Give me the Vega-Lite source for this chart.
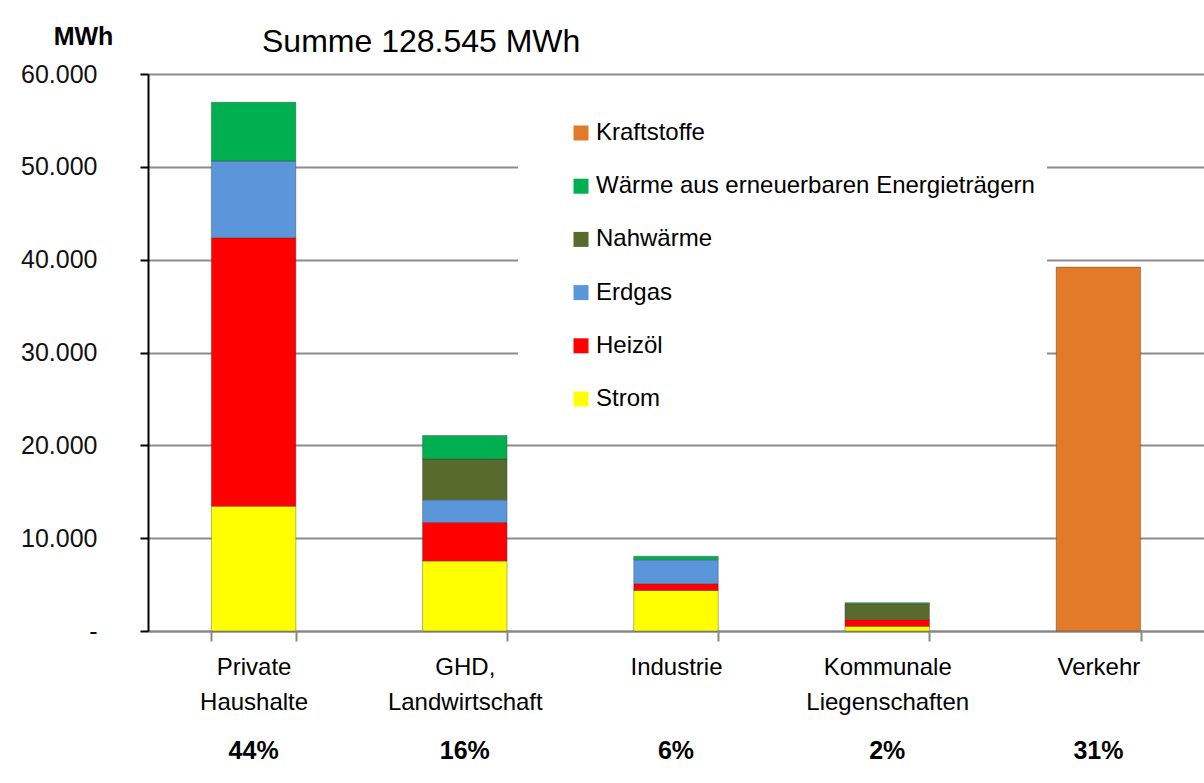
{
  "$schema": "https://vega.github.io/schema/vega-lite/v6.json",
  "width": 1056,
  "height": 557,
  "autosize": {"type": "none"},
  "padding": {"left": 148, "top": 74, "right": 0, "bottom": 152},
  "background": "white",
  "config": {"font": "Liberation Sans", "view": {"stroke": null}},
  "title": {"text": "Summe 128.545 MWh", "anchor": "start", "frame": "group", "dx": 114, "dy": 53, "fontSize": 32, "fontWeight": "normal", "color": "#000000", "offset": 18},
  "layer": [
    {
      "data": {"values": [
        {"sector": "Private Haushalte", "carrier": "Strom", "idx": 1, "mwh": 13440},
        {"sector": "Private Haushalte", "carrier": "Heizöl", "idx": 2, "mwh": 28920},
        {"sector": "Private Haushalte", "carrier": "Erdgas", "idx": 3, "mwh": 8270},
        {"sector": "Private Haushalte", "carrier": "Wärme aus erneuerbaren Energieträgern", "idx": 5, "mwh": 6320},
        {"sector": "GHD, Landwirtschaft", "carrier": "Strom", "idx": 1, "mwh": 7540},
        {"sector": "GHD, Landwirtschaft", "carrier": "Heizöl", "idx": 2, "mwh": 4150},
        {"sector": "GHD, Landwirtschaft", "carrier": "Erdgas", "idx": 3, "mwh": 2440},
        {"sector": "GHD, Landwirtschaft", "carrier": "Nahwärme", "idx": 4, "mwh": 4400},
        {"sector": "GHD, Landwirtschaft", "carrier": "Wärme aus erneuerbaren Energieträgern", "idx": 5, "mwh": 2530},
        {"sector": "Industrie", "carrier": "Strom", "idx": 1, "mwh": 4370},
        {"sector": "Industrie", "carrier": "Heizöl", "idx": 2, "mwh": 720},
        {"sector": "Industrie", "carrier": "Erdgas", "idx": 3, "mwh": 2580},
        {"sector": "Industrie", "carrier": "Wärme aus erneuerbaren Energieträgern", "idx": 5, "mwh": 390},
        {"sector": "Kommunale Liegenschaften", "carrier": "Strom", "idx": 1, "mwh": 500},
        {"sector": "Kommunale Liegenschaften", "carrier": "Heizöl", "idx": 2, "mwh": 720},
        {"sector": "Kommunale Liegenschaften", "carrier": "Nahwärme", "idx": 4, "mwh": 1720},
        {"sector": "Kommunale Liegenschaften", "carrier": "Wärme aus erneuerbaren Energieträgern", "idx": 5, "mwh": 110},
        {"sector": "Verkehr", "carrier": "Kraftstoffe", "idx": 6, "mwh": 39200}
      ]},
      "mark": {"type": "bar", "stroke": "#333333", "strokeWidth": 0.8, "strokeOpacity": 0.45},
      "encoding": {
        "x": {
          "field": "sector", "type": "nominal",
          "sort": ["Private Haushalte", "GHD, Landwirtschaft", "Industrie", "Kommunale Liegenschaften", "Verkehr"],
          "scale": {"paddingInner": 0.6, "paddingOuter": 0.3},
          "axis": {
            "title": null, "labelAngle": 0, "labelExpr": "split(datum.label, ' ')",
            "labelFontSize": 24, "labelColor": "#000000", "labelLineHeight": 35, "labelBaseline": "top", "labelPadding": 14,
            "domainColor": "#888888", "domainWidth": 2, "tickColor": "#888888", "tickWidth": 2, "tickSize": 10, "tickBand": "extent",
            "grid": false
          }
        },
        "y": {
          "field": "mwh", "type": "quantitative", "stack": "zero",
          "scale": {"domain": [0, 60000]},
          "axis": {
            "values": [0, 10000, 20000, 30000, 40000, 50000, 60000],
            "labelExpr": "datum.value == 0 ? '-' : replace(format(datum.value, ','), ',', '.')",
            "labelFontSize": 25, "labelColor": "#111111", "labelPadding": 43,
            "domainColor": "#000000", "domainWidth": 2, "tickColor": "#000000", "tickWidth": 2, "tickSize": 8,
            "gridColor": "#8c8c8c", "gridWidth": 2,
            "title": "MWh", "titleAngle": 0, "titleFontSize": 25, "titleFontWeight": "bold", "titleColor": "#000000",
            "titleAlign": "center", "titleBaseline": "alphabetic", "titleX": -65, "titleY": -30
          }
        },
        "color": {
          "field": "carrier", "type": "nominal",
          "scale": {
            "domain": ["Kraftstoffe", "Wärme aus erneuerbaren Energieträgern", "Nahwärme", "Erdgas", "Heizöl", "Strom"],
            "range": ["#E27A28", "#00B050", "#586B2C", "#5B96DA", "#FF0000", "#FFFF00"]
          },
          "legend": {
            "orient": "none", "legendX": 370, "legendY": 35, "title": null,
            "fillColor": "white", "padding": 12, "symbolOffset": 39,
            "labelFontSize": 24, "labelColor": "#000000", "labelOffset": 3,
            "symbolType": "square", "symbolSize": 225, "symbolStrokeWidth": 0,
            "rowPadding": 29.2, "labelLimit": 700
          }
        },
        "order": {"field": "idx", "type": "quantitative", "sort": "ascending"}
      }
    },
    {
      "data": {"values": [
        {"sector": "Private Haushalte", "pct": "44%"},
        {"sector": "GHD, Landwirtschaft", "pct": "16%"},
        {"sector": "Industrie", "pct": "6%"},
        {"sector": "Kommunale Liegenschaften", "pct": "2%"},
        {"sector": "Verkehr", "pct": "31%"}
      ]},
      "mark": {"type": "text", "dy": 120, "fontSize": 25, "fontWeight": "bold", "color": "#000000"},
      "encoding": {
        "x": {"field": "sector", "type": "nominal", "sort": ["Private Haushalte", "GHD, Landwirtschaft", "Industrie", "Kommunale Liegenschaften", "Verkehr"]},
        "y": {"datum": 0},
        "text": {"field": "pct"}
      }
    }
  ]
}
